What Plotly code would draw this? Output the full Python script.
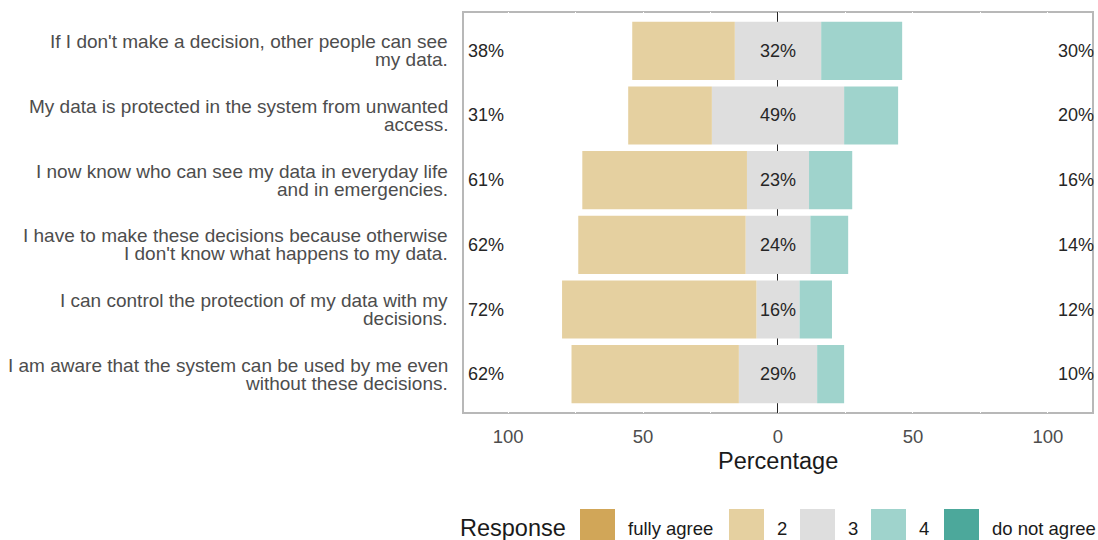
import textwrap
import plotly.graph_objects as go

# survey items, top to bottom
items = [
    "If I don't make a decision, other people can see my data.",
    "My data is protected in the system from unwanted access.",
    "I now know who can see my data in everyday life and in emergencies.",
    "I have to make these decisions because otherwise I don't know what happens to my data.",
    "I can control the protection of my data with my decisions.",
    "I am aware that the system can be used by me even without these decisions.",
]

levels = ["fully agree", "2", "3", "4", "do not agree"]

# percentages per response level
fully_agree = [0, 0, 0, 0, 0, 0]
agree2 = [38, 31, 61, 62, 72, 62]
neutral = [32, 49, 23, 24, 16, 29]
disagree4 = [30, 20, 16, 14, 12, 10]
not_agree = [0, 0, 0, 0, 0, 0]

colors = ["#D1A658", "#E5D0A0", "#DEDEDE", "#9FD3CC", "#4CA89B"]

x_ticks = [-100, -50, 0, 50, 100]

FONT = "Liberation Sans, Arial, sans-serif"
W, H = 1098, 540
L, R, T, B = 463, 5, 12, 127
XMAX = 116.7

low = [a + b for a, b in zip(fully_agree, agree2)]
high = [a + b for a, b in zip(disagree4, not_agree)]
half_neutral = [v / 2 for v in neutral]


# page pixel -> paper coordinates
def px_x(p):
    return (p - L) / (W - L - R)


def px_y(p):
    return (H - B - p) / (H - T - B)


fig = go.Figure()

bar_kw = dict(orientation="h", width=0.9, marker_line_width=0, showlegend=False,
              hoverinfo="skip")

# stacked outward from zero, negatives to the left
fig.add_trace(go.Bar(y=items, x=[-v for v in half_neutral], marker_color=colors[2], **bar_kw))
fig.add_trace(go.Bar(y=items, x=half_neutral, marker_color=colors[2], **bar_kw))
fig.add_trace(go.Bar(y=items, x=[-v for v in agree2], marker_color=colors[1], **bar_kw))
fig.add_trace(go.Bar(y=items, x=disagree4, marker_color=colors[3], **bar_kw))
fig.add_trace(go.Bar(y=items, x=[-v for v in fully_agree], marker_color=colors[0], **bar_kw))
fig.add_trace(go.Bar(y=items, x=not_agree, marker_color=colors[4], **bar_kw))

annotations = []
pct_font = dict(family=FONT, size=18, color="#262626")
for item, lo, mid, hi in zip(items, low, neutral, high):
    annotations.append(dict(x=-XMAX, y=item, text=f"{lo}%", xanchor="left", xshift=3,
                            showarrow=False, font=pct_font))
    annotations.append(dict(x=0, y=item, text=f"{mid}%", xanchor="center",
                            showarrow=False, font=pct_font))
    annotations.append(dict(x=XMAX, y=item, text=f"{hi}%", xanchor="right", xshift=3,
                            showarrow=False, font=pct_font))
    # wrapped item labels, tight line spacing
    lines = textwrap.wrap(item, width=49)
    n = len(lines)
    for j, line in enumerate(lines):
        annotations.append(dict(xref="paper", x=0, xshift=-13, y=item, yshift=(n - 1) * 9 - j * 18,
                                text=line, xanchor="right", showarrow=False,
                                font=dict(family=FONT, size=19, color="#4D4D4D")))

# axis title
annotations.append(dict(xref="paper", yref="paper", x=0.5, y=px_y(461), text="Percentage",
                        showarrow=False, xanchor="center", yanchor="middle",
                        font=dict(family=FONT, size=23.5, color="#1A1A1A")))

# hand-made legend at the bottom
shapes = []
annotations.append(dict(xref="paper", yref="paper", x=px_x(458), y=px_y(528), text="Response",
                        showarrow=False, xanchor="left", yanchor="middle",
                        font=dict(family=FONT, size=23.5, color="#1A1A1A")))
legend_x = [580, 729, 800, 871, 944]
for lx, lev, col in zip(legend_x, levels, colors):
    shapes.append(dict(type="rect", xref="paper", yref="paper", x0=px_x(lx), x1=px_x(lx + 35),
                       y0=px_y(509), y1=px_y(544), fillcolor=col, line=dict(width=0)))
    annotations.append(dict(xref="paper", yref="paper", x=px_x(lx + 46), y=px_y(528), text=lev,
                            showarrow=False, xanchor="left", yanchor="middle",
                            font=dict(family=FONT, size=18.5, color="#1A1A1A")))

# panel border (under the white grid) and zero line
shapes.append(dict(type="rect", xref="paper", yref="paper", x0=0, x1=1, y0=0, y1=1,
                   line=dict(color="#B8B8B8", width=2), layer="below"))
shapes.append(dict(type="line", xref="x", yref="paper", x0=0, x1=0, y0=0, y1=1,
                   line=dict(color="#262626", width=2), layer="between"))

fig.update_layout(
    width=W,
    height=H,
    barmode="relative",
    bargap=0.1,
    plot_bgcolor="white",
    paper_bgcolor="white",
    margin=dict(l=L, r=R, t=T, b=B),
    font=dict(family=FONT),
    annotations=annotations,
    shapes=shapes,
    xaxis=dict(
        range=[-XMAX, XMAX],
        tickvals=x_ticks,
        ticktext=[str(abs(v)) for v in x_ticks],
        tickfont=dict(family=FONT, size=18.5, color="#4D4D4D"),
        showgrid=True,
        gridcolor="white",
        gridwidth=1,
        minor=dict(dtick=25, showgrid=True, gridcolor="white", gridwidth=1),
        zeroline=False,
        showline=False,
        ticks="",
        ticklabelstandoff=10,
    ),
    yaxis=dict(
        categoryorder="array",
        categoryarray=items,
        range=[5.6, -0.6],
        showticklabels=False,
        showgrid=False,
        zeroline=False,
        showline=False,
        ticks="",
    ),
)

# drop the default body margin so the figure sits at the window's corner
fig.write_html(
    "out.html",
    config={"displayModeBar": False},
    post_script="document.body.style.margin='0';document.body.style.overflow='hidden';",
)
